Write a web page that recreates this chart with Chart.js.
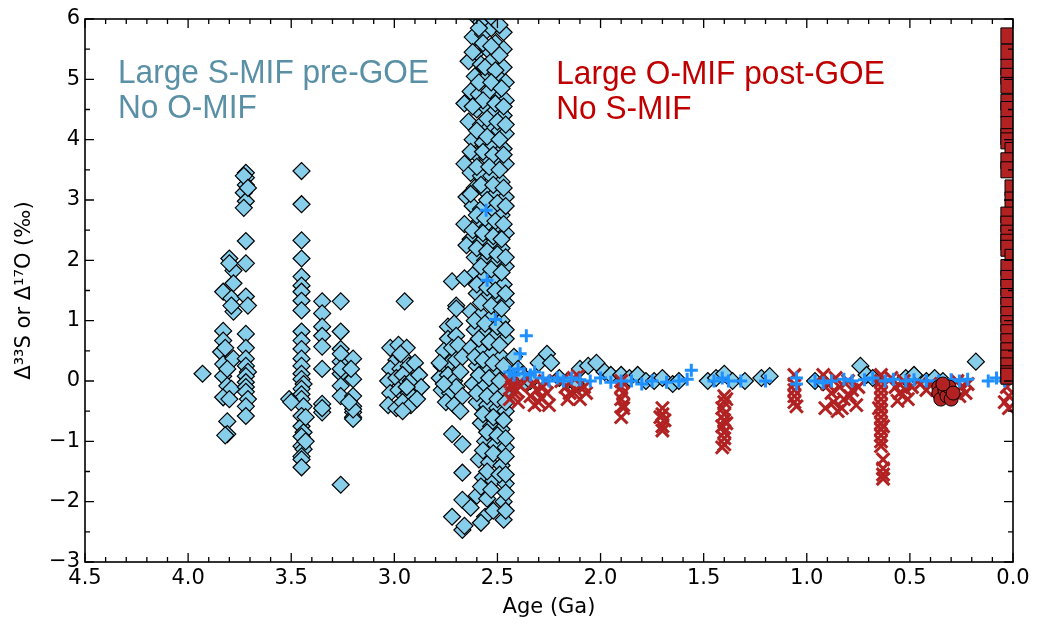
<!DOCTYPE html>
<html>
<head>
<meta charset="utf-8">
<script src="https://cdn.jsdelivr.net/npm/chart.js@4/dist/chart.umd.min.js"></script>
<style>
  body { margin: 0; background: #fff; }
  #wrap { width: 1037px; height: 624px; }
</style>
</head>
<body>
<div id="wrap"><canvas id="mif" width="1037" height="624"></canvas></div>
<script>
// Δ33S (sulfur) and Δ17O (oxygen) through time, [age in Ga, value in ‰]
var xTicks = [4.5, 4.0, 3.5, 3.0, 2.5, 2.0, 1.5, 1.0, 0.5, 0.0];
var yTicks = [-3, -2, -1, 0, 1, 2, 3, 4, 5, 6];

var sulfurEoarchean = [
  [3.93,0.12],[3.80,2.03],[3.83,1.48],[3.78,1.83],[3.78,1.62],[3.79,1.37],[3.78,1.15],[3.83,0.83],
  [3.83,0.67],[3.84,0.48],[3.83,0.28],[3.83,0.08],[3.81,-0.08],[3.83,-0.27],[3.78,0.37],[3.79,-0.13],
  [3.81,-0.67],[3.81,-0.88],[3.82,-0.9],[3.80,1.95],[3.79,1.25],[3.82,0.55],[3.80,-0.3],[3.81,0.2],
  [3.72,3.45],[3.72,3.37],[3.72,3.25],[3.73,3.12],[3.72,2.98],[3.73,2.87],[3.72,2.32],[3.72,1.95],
  [3.72,1.4],[3.71,1.25],[3.72,0.78],[3.72,0.55],[3.72,0.37],[3.72,0.25],[3.71,0.15],[3.72,0.08],
  [3.72,-0.02],[3.72,-0.1],[3.72,-0.18],[3.71,-0.3],[3.72,-0.42],[3.72,-0.58],[3.73,3.4],[3.71,3.2]
];
var sulfurPaleoarchean = [
  [3.45,3.48],[3.45,2.93],[3.45,2.33],[3.45,2.03],[3.45,1.73],[3.45,1.58],[3.45,1.48],[3.45,1.33],
  [3.45,1.17],[3.45,0.82],[3.45,0.67],[3.45,0.53],[3.45,0.37],[3.45,0.25],[3.45,0.12],[3.45,0.03],
  [3.44,-0.05],[3.45,-0.13],[3.45,-0.22],[3.45,-0.3],[3.44,-0.42],[3.45,-0.58],[3.45,-0.75],[3.44,-0.85],
  [3.45,-0.92],[3.45,-1.08],[3.44,-1.13],[3.45,-1.25],[3.45,-1.3],[3.45,-1.43],[3.51,-0.3],[3.50,-0.35],
  [3.43,-0.6],[3.43,-1.0],
  [3.35,1.32],[3.35,1.12],[3.35,0.9],[3.35,0.75],[3.35,0.57],[3.35,0.2],[3.35,-0.38],[3.35,-0.52],[3.35,-0.45],
  [3.26,1.32],[3.26,0.82],[3.26,0.53],[3.26,0.32],[3.26,0.12],[3.26,-0.08],[3.26,-0.25],[3.26,-1.72],
  [3.26,0.45],[3.26,0.2],[3.20,0.37],[3.20,0.03],[3.20,-0.25],[3.20,-0.42],[3.20,-0.52],[3.20,-0.6],
  [3.20,-0.63],[3.20,-0.47],[3.21,0.2],[3.22,-0.35]
];
var sulfurMesoarchean = [
  [2.95,1.32],[3.02,0.55],[2.98,0.6],[2.94,0.55],[2.99,0.35],[2.96,0.4],[3.02,0.2],[2.97,0.2],
  [2.93,0.25],[2.90,0.3],[3.03,0.0],[2.99,0.05],[2.96,0.1],[2.95,-0.05],[2.92,0.0],[2.88,0.1],
  [2.87,-0.1],[3.02,-0.2],[2.98,-0.15],[2.95,-0.25],[2.93,-0.2],[3.03,-0.4],[2.99,-0.45],[2.96,-0.35],
  [2.92,-0.4],[2.89,-0.3],[2.96,-0.5],[2.97,0.45],[2.94,-0.1],
  [2.72,1.65],[2.70,1.25],[2.70,1.2],[2.74,0.9],[2.71,0.95],[2.74,0.7],[2.70,0.75],[2.76,0.5],
  [2.72,0.55],[2.69,0.6],[2.77,0.25],[2.73,0.3],[2.70,0.35],[2.67,0.4],[2.78,0.05],[2.74,0.1],
  [2.71,0.0],[2.68,0.15],[2.77,-0.15],[2.73,-0.2],[2.70,-0.1],[2.67,-0.25],[2.75,-0.35],[2.71,-0.4],
  [2.68,-0.5],[2.72,-0.88],[2.67,-1.05],[2.67,-1.52],[2.72,-2.25],[2.67,-2.47],[2.67,-1.97],[2.78,0.3],[2.76,-0.05]
];
var sulfurNeoarchean = [
  [2.61,6.05],[2.58,5.95],[2.55,6.1],[2.62,5.7],[2.57,5.75],[2.53,5.85],[2.47,5.78],
  [2.60,5.45],[2.55,5.5],[2.51,5.6],[2.47,5.5],[2.64,5.3],[2.58,5.25],[2.53,5.3],[2.47,5.2],
  [2.61,5.05],[2.56,5.0],[2.50,5.05],[2.46,4.95],[2.63,4.8],[2.59,4.75],[2.54,4.8],[2.49,4.7],[2.46,4.65],
  [2.66,4.6],[2.60,4.5],[2.56,4.55],[2.52,4.45],[2.47,4.4],[2.64,4.3],[2.58,4.25],[2.54,4.2],[2.49,4.15],[2.46,4.1],
  [2.62,4.0],[2.57,3.95],[2.52,3.9],[2.47,3.85],[2.60,3.75],[2.55,3.7],[2.50,3.65],[2.46,3.6],[2.66,3.6],
  [2.63,3.45],[2.58,3.4],[2.53,3.4],[2.48,3.3],[2.61,3.2],[2.56,3.15],[2.51,3.1],[2.46,3.05],[2.65,3.05],
  [2.62,2.9],[2.58,2.85],[2.53,2.8],[2.48,2.75],[2.60,2.6],[2.55,2.55],[2.50,2.5],[2.46,2.45],[2.66,2.6],
  [2.63,2.35],[2.58,2.3],[2.53,2.25],[2.48,2.2],[2.61,2.05],[2.56,2.0],[2.51,1.95],[2.46,1.9],[2.65,2.25],
  [2.62,1.75],[2.57,1.7],[2.52,1.65],[2.47,1.6],[2.60,1.45],[2.55,1.4],[2.50,1.35],[2.46,1.3],[2.66,1.7],
  [2.63,1.15],[2.58,1.1],[2.53,1.05],[2.48,1.0],[2.61,0.85],[2.56,0.8],[2.51,0.75],[2.46,0.7],
  [2.63,0.55],[2.58,0.5],[2.53,0.45],[2.48,0.4],[2.60,0.25],[2.55,0.2],[2.50,0.15],[2.46,0.1],
  [2.62,-0.05],[2.57,-0.1],[2.52,-0.15],[2.47,-0.2],[2.60,-0.35],[2.55,-0.4],[2.50,-0.45],[2.46,-0.5],
  [2.58,-0.7],[2.53,-0.75],[2.48,-0.8],[2.56,-1.0],[2.51,-1.05],[2.46,-1.1],[2.59,-1.3],[2.54,-1.35],[2.48,-1.4],
  [2.57,-1.6],[2.52,-1.65],[2.46,-1.7],[2.60,-1.9],[2.55,-1.95],[2.47,-2.0],[2.63,-2.1],[2.56,-2.25],[2.47,-2.3]
];
var sulfurNeoarcheanExtra = [
  [2.59,5.85],[2.52,6.0],[2.49,5.9],[2.57,5.6],[2.53,5.55],[2.49,5.4],[2.62,5.45],[2.56,5.2],
  [2.51,5.15],[2.59,4.95],[2.53,4.95],[2.48,4.85],[2.57,4.65],[2.51,4.6],[2.62,4.55],[2.47,4.55],
  [2.55,4.35],[2.50,4.3],[2.60,4.15],[2.46,4.25],[2.55,4.05],[2.49,4.0],[2.63,3.8],[2.57,3.8],
  [2.52,3.75],[2.47,3.75],[2.60,3.55],[2.54,3.55],[2.49,3.5],[2.58,3.25],[2.52,3.25],[2.47,3.2],
  [2.63,3.1],[2.55,3.0],[2.50,2.95],[2.46,2.9],[2.60,2.75],[2.56,2.7],[2.51,2.65],[2.47,2.6],
  [2.62,2.5],[2.57,2.45],[2.52,2.4],[2.48,2.35],[2.60,2.2],[2.55,2.15],[2.50,2.1],[2.46,2.05],
  [2.58,1.9],[2.53,1.85],[2.48,1.8],[2.60,1.6],[2.55,1.55],[2.51,1.5],[2.46,1.45],[2.58,1.3],
  [2.53,1.25],[2.48,1.2],[2.61,1.0],[2.56,0.95],[2.50,0.9],[2.46,0.85],[2.59,0.7],[2.54,0.65],
  [2.49,0.6],[2.61,0.4],[2.57,0.35],[2.52,0.3],[2.47,0.25],[2.59,0.1],[2.54,0.05],[2.49,0.0],
  [2.60,-0.2],[2.55,-0.25],[2.50,-0.3],[2.46,-0.35],[2.57,-0.55],[2.52,-0.6],[2.47,-0.65],[2.55,-0.85],
  [2.50,-0.9],[2.46,-0.95],[2.57,-1.15],[2.52,-1.2],[2.46,-1.25],[2.55,-1.5],[2.49,-1.55],[2.46,-1.55],
  [2.58,-1.75],[2.53,-1.8],[2.46,-1.85],[2.52,-2.15],[2.46,-2.15],[2.58,-2.35],[2.66,-2.4]
];
var sulfurProterozoic = [
  [2.42,0.4],[2.40,0.2],[2.38,0.1],[2.36,-0.05],[2.34,0.0],[2.30,0.3],[2.26,0.45],[2.24,0.3],
  [2.20,0.05],[2.16,0.0],[2.12,-0.05],[2.10,0.2],[2.06,0.25],[2.02,0.3],[1.98,0.15],[1.95,0.1],
  [1.90,0.1],[1.86,0.05],[1.82,0.1],[1.78,0.0],[1.74,0.0],[1.70,0.05],[1.65,-0.05],[1.62,0.0],
  [1.48,0.0],[1.44,0.05],[1.40,0.12],[1.36,0.0],[1.30,0.0],[1.22,0.05],[1.18,0.08],[0.96,0.0],
  [0.92,-0.02],[0.74,0.25],[0.71,0.1],[0.68,0.05],[0.52,0.05],[0.48,0.1],[0.18,0.32],[0.42,0.0],
  [0.38,0.05],[0.34,0.0]
];
var sulfurPlus = [
  [2.555,2.83],[2.55,1.67],[2.51,1.02],[2.36,0.75],[2.39,0.45],[2.42,0.1],[2.44,0.15],[2.40,0.2],
  [2.37,0.12],[2.34,0.1],[2.32,0.15],[2.28,0.05],[2.25,0.0],[2.21,0.05],[2.18,0.0],[2.14,0.05],
  [2.10,0.02],[2.05,0.0],[2.00,0.05],[1.95,-0.02],[1.90,0.0],[1.85,0.0],[1.80,-0.05],[1.75,0.0],
  [1.68,-0.02],[1.62,0.0],[1.58,0.03],[1.56,0.18],[1.45,0.0],[1.41,0.05],[1.38,0.0],[1.32,0.0],
  [1.20,0.0],[1.05,0.05],[1.05,-0.05],[0.96,0.0],[0.92,-0.03],[0.88,0.0],[0.82,0.03],[0.78,0.0],
  [0.72,0.02],[0.68,0.05],[0.62,0.0],[0.58,0.03],[0.52,0.0],[0.48,0.02],[0.42,0.0],[0.36,0.0],
  [0.30,0.02],[0.26,0.0],[0.22,0.03],[0.12,0.0],[0.08,0.05],[0.04,0.0],[0.02,0.05]
];
var oxygenCross = [
  [2.44,0.0],[2.43,-0.1],[2.42,-0.2],[2.44,-0.3],[2.41,-0.15],[2.40,-0.35],[2.43,-0.05],[2.40,-0.05],
  [2.35,0.05],[2.33,-0.05],[2.31,-0.15],[2.34,-0.25],[2.30,-0.35],[2.28,-0.1],[2.26,-0.2],[2.25,-0.4],
  [2.32,-0.4],[2.27,0.0],[2.29,-0.28],
  [2.19,0.0],[2.17,-0.1],[2.15,-0.2],[2.13,0.05],[2.12,-0.15],[2.10,-0.3],[2.08,-0.1],[2.16,-0.3],[2.11,0.08],[2.07,-0.2],
  [1.90,0.0],[1.90,-0.1],[1.89,-0.2],[1.90,-0.3],[1.89,-0.45],[1.90,-0.6],[1.89,-0.4],
  [1.70,-0.45],[1.70,-0.55],[1.69,-0.65],[1.70,-0.75],[1.70,-0.82],[1.71,-0.6],
  [1.40,-0.25],[1.40,-0.35],[1.41,-0.45],[1.40,-0.55],[1.40,-0.65],[1.41,-0.75],[1.40,-0.85],[1.40,-0.95],
  [1.40,-1.05],[1.41,-1.1],[1.39,-0.3],[1.39,-0.7],
  [1.06,0.1],[1.06,-0.05],[1.06,-0.15],[1.06,-0.25],[1.06,-0.35],[1.05,-0.42],
  [0.92,0.1],[0.90,-0.05],[0.88,-0.2],[0.86,0.05],[0.84,-0.1],[0.82,-0.3],[0.80,0.0],[0.78,-0.15],
  [0.76,-0.4],[0.91,-0.45],[0.87,-0.35],[0.83,-0.45],[0.79,-0.25],[0.75,-0.1],[0.85,-0.5],
  [0.64,0.1],[0.64,0.0],[0.64,-0.1],[0.64,-0.2],[0.64,-0.3],[0.64,-0.4],[0.64,-0.5],[0.64,-0.6],
  [0.64,-0.7],[0.64,-0.8],[0.64,-0.9],[0.64,-1.0],[0.64,-1.08],[0.63,-1.3],[0.63,-1.45],[0.63,-1.55],
  [0.63,-1.62],[0.65,-0.45],[0.63,-0.75],
  [0.59,0.05],[0.57,-0.1],[0.55,-0.2],[0.53,0.0],[0.51,-0.3],[0.49,-0.1],[0.56,-0.33],[0.52,-0.15],
  [0.45,-0.05],[0.42,-0.15],[0.40,-0.05],
  [0.27,0.0],[0.25,-0.1],[0.23,-0.2],[0.22,-0.05],[0.26,-0.25],
  [0.03,-0.1],[0.02,-0.25],[0.04,-0.35],[0.02,-0.45]
];
var oxygenCircle = [
  [0.36,-0.1],[0.36,-0.2],[0.35,-0.3],[0.33,-0.15],[0.32,-0.25],[0.31,-0.1],[0.30,-0.3],[0.29,-0.2],[0.34,-0.05]
];
var oxygenSquare = [
  [0.02,5.72],[0.02,5.45],[0.02,5.2],[0.02,5.05],[0.02,4.9],[0.02,4.62],[0.02,4.5],[0.02,4.25],
  [0.02,4.05],[0.02,3.98],[0.0,3.82],[0.02,3.65],[0.02,3.5],[0.0,3.2],[0.0,3.0],[0.02,2.75],
  [0.02,2.6],[0.02,2.45],[0.02,2.3],[0.02,2.2],[0.0,2.05],[0.02,1.88],[0.02,1.7],[0.02,1.55],
  [0.02,1.4],[0.02,1.25],[0.02,1.1],[0.02,0.95],[0.02,0.8],[0.02,0.65],[0.02,0.5],[0.02,0.38],
  [0.02,0.25],[0.02,0.12],[0.02,0.08]
];

function toPoints(list) {
  return list.map(function (p) { return { x: p[0], y: p[1] }; });
}

var allDiamonds = [].concat(sulfurEoarchean, sulfurPaleoarchean, sulfurMesoarchean,
  sulfurNeoarchean, sulfurNeoarcheanExtra, sulfurProterozoic);

// matplotlib style frame: spines on all four sides, ticks pointing inward
var frameTicks = {
  id: 'frameTicks',
  afterDatasetsDraw: function (chart) {
    var ctx = chart.ctx, a = chart.chartArea, sx = chart.scales.x, sy = chart.scales.y;
    ctx.save();
    ctx.strokeStyle = '#000';
    ctx.lineWidth = 1.3;
    ctx.beginPath();
    for (var i = 0; i <= 45; i++) {
      var px = sx.getPixelForValue(i / 10);
      var lx = i % 5 === 0 ? 9 : 5;
      ctx.moveTo(px, a.bottom); ctx.lineTo(px, a.bottom - lx);
      ctx.moveTo(px, a.top); ctx.lineTo(px, a.top + lx);
    }
    for (var j = -6; j <= 12; j++) {
      var py = sy.getPixelForValue(j / 2);
      var ly = j % 2 === 0 ? 9 : 5;
      ctx.moveTo(a.left, py); ctx.lineTo(a.left + ly, py);
      ctx.moveTo(a.right, py); ctx.lineTo(a.right - ly, py);
    }
    ctx.stroke();
    ctx.lineWidth = 1.6;
    ctx.strokeRect(a.left, a.top, a.right - a.left, a.bottom - a.top);
    ctx.restore();
  }
};

var notes = {
  id: 'notes',
  afterDraw: function (chart) {
    var ctx = chart.ctx, sx = chart.scales.x, sy = chart.scales.y;
    function line(txt, age, val, color) {
      ctx.save();
      ctx.translate(sx.getPixelForValue(age), sy.getPixelForValue(val));
      ctx.scale(0.93, 1);
      ctx.fillStyle = color;
      ctx.font = '34px "Liberation Sans", Arial, sans-serif';
      ctx.textBaseline = 'alphabetic';
      ctx.fillText(txt, 0, 0);
      ctx.restore();
    }
    line('Large S-MIF pre-GOE', 4.34, 4.94, '#5a90a6');
    line('No O-MIF', 4.34, 4.36, '#5a90a6');
    line('Large O-MIF post-GOE', 2.215, 4.92, '#c00000');
    line('No S-MIF', 2.215, 4.34, '#c00000');
  }
};

var tickFont = { family: '"DejaVu Sans", sans-serif', size: 21 };

new Chart(document.getElementById('mif'), {
  type: 'scatter',
  data: {
    datasets: [
      {
        label: 'Δ17O squares',
        data: toPoints(oxygenSquare),
        pointStyle: 'rect', pointRadius: 11.3,
        backgroundColor: '#b22222', borderColor: '#000', borderWidth: 1,
        order: 1, clip: 0
      },
      {
        label: 'Δ17O circles',
        data: toPoints(oxygenCircle),
        pointStyle: 'circle', pointRadius: 7,
        backgroundColor: '#b22222', borderColor: '#000', borderWidth: 1,
        order: 2, clip: 0
      },
      {
        label: 'Δ33S plus',
        data: toPoints(sulfurPlus),
        pointStyle: 'cross', pointRadius: 6.5,
        backgroundColor: '#1e90ff', borderColor: '#1e90ff', borderWidth: 3,
        order: 3, clip: 0
      },
      {
        label: 'Δ17O crosses',
        data: toPoints(oxygenCross),
        pointStyle: 'crossRot', pointRadius: 9,
        backgroundColor: '#b22222', borderColor: '#b22222', borderWidth: 3,
        order: 4, clip: 0
      },
      {
        label: 'Δ33S diamonds',
        data: toPoints(allDiamonds),
        pointStyle: 'rectRot', pointRadius: 8.5,
        backgroundColor: '#87ceeb', borderColor: '#000', borderWidth: 1.2,
        order: 5, clip: 0
      }
    ]
  },
  options: {
    responsive: false,
    devicePixelRatio: 1,
    animation: false,
    events: [],
    layout: { padding: { top: 19, right: 24, left: 0, bottom: 0 } },
    plugins: { legend: { display: false }, tooltip: { enabled: false } },
    scales: {
      x: {
        type: 'linear', reverse: true, min: 0, max: 4.5,
        afterBuildTicks: function (s) { s.ticks = xTicks.map(function (v) { return { value: v }; }); },
        afterFit: function (s) { s.height = 62; },
        grid: { display: false, drawTicks: false },
        border: { display: false },
        ticks: {
          color: '#000', font: tickFont, padding: 4, maxRotation: 0, autoSkip: false,
          callback: function (v) { return Number(v).toFixed(1); }
        },
        title: {
          display: true, text: 'Age (Ga)', color: '#000',
          font: tickFont, padding: { top: 0, bottom: 4 }
        }
      },
      y: {
        type: 'linear', min: -3, max: 6,
        afterBuildTicks: function (s) { s.ticks = yTicks.map(function (v) { return { value: v }; }); },
        afterFit: function (s) { s.width = 85; },
        grid: { display: false, drawTicks: false },
        border: { display: false },
        ticks: {
          color: '#000', font: tickFont, padding: 5,
          callback: function (v) { return v < 0 ? '\u2212' + Math.abs(v) : String(v); }
        },
        title: {
          display: true, text: 'Δ³³S or Δ¹⁷O (‰)', color: '#000',
          font: tickFont, padding: { top: 12, bottom: 0 }
        }
      }
    }
  },
  plugins: [frameTicks, notes]
});
</script>
</body>
</html>
